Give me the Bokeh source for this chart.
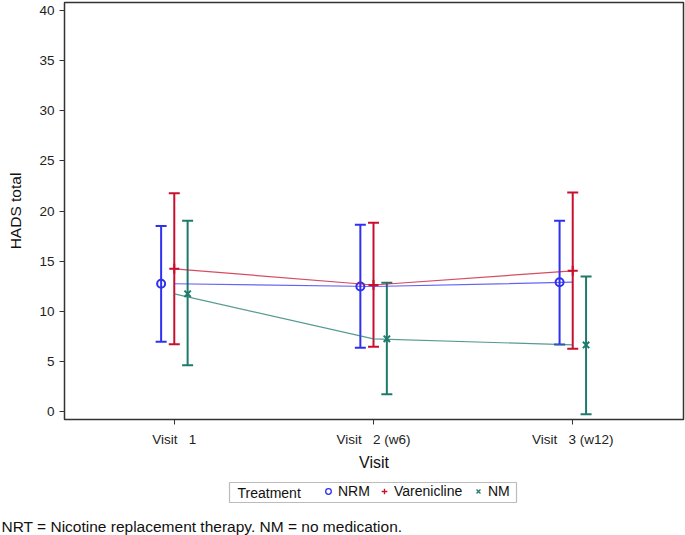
from bokeh.plotting import figure
from bokeh.layouts import column
from bokeh.models import (Range1d, FixedTicker, Whisker, TeeHead, ColumnDataSource,
                          Legend, LegendItem, Label, BoxAnnotation)
from bokeh.transform import dodge
from bokeh.embed import file_html
from bokeh.resources import INLINE

visits = [1, 2, 3]
visit_labels = ["Visit\u00a0\u00a0 1", "Visit\u00a0\u00a0 2 (w6)", "Visit\u00a0\u00a0 3 (w12)"]

nrm_mean = [12.74, 12.47, 12.90]
nrm_upper = [18.50, 18.62, 19.02]
nrm_lower = [6.95, 6.35, 6.68]

var_mean = [14.23, 12.62, 14.03]
var_upper = [21.78, 18.82, 21.85]
var_lower = [6.71, 6.45, 6.25]

nm_mean = [11.74, 7.25, 6.64]
nm_upper = [19.02, 12.84, 13.47]
nm_lower = [4.62, 1.73, -0.27]

series = [
    ("NRM", nrm_mean, nrm_upper, nrm_lower, "#3030F0", "circle", -0.066, 8),
    ("Varenicline", var_mean, var_upper, var_lower, "#C8102E", "cross", 0.0, 10),
    ("NM", nm_mean, nm_upper, nm_lower, "#1F7A6B", "x", 0.067, 9),
]
legend_title = "Treatment"
footnote = "NRT = Nicotine replacement therapy. NM = no medication."

FONT = "Liberation Sans"

# ---------------- main plot ----------------
p = figure(width=685, height=475, output_backend="svg", toolbar_location=None,
           x_range=Range1d(0.449, 3.556), y_range=Range1d(-0.8, 40.8),
           min_border_left=64, min_border_right=2, min_border_top=2, min_border_bottom=56)
p.grid.visible = False
p.outline_line_color = "#333333"
p.outline_line_width = 1.5

p.xaxis.ticker = FixedTicker(ticks=visits)
p.xaxis.major_label_overrides = {v: l for v, l in zip(visits, visit_labels)}
p.yaxis.ticker = FixedTicker(ticks=[0, 5, 10, 15, 20, 25, 30, 35, 40])
for ax in (p.xaxis, p.yaxis):
    ax.minor_tick_line_color = None
    ax.major_tick_in = 0
    ax.major_tick_out = 5
    ax.axis_line_color = "#333333"
    ax.major_tick_line_color = "#333333"
    ax.major_label_text_font = FONT
    ax.major_label_text_font_size = "13.5px"
    ax.major_label_text_color = "#222222"
    ax.axis_label_text_font = FONT
    ax.axis_label_text_font_style = "normal"
    ax.axis_label_text_color = "#111111"
p.xaxis.axis_label = "Visit"
p.xaxis.axis_label_text_font_size = "16px"
p.xaxis.major_label_standoff = 7
p.xaxis.axis_label_standoff = 4
p.yaxis.axis_label = "HADS total"
p.yaxis.axis_label_text_font_size = "15.5px"
p.yaxis.major_label_standoff = 5
p.yaxis.axis_label_standoff = 12

for name, mean, up, lo, color, marker, off, sz in series:
    src = ColumnDataSource(dict(x=visits, mean=mean, upper=up, lower=lo))
    p.line("x", "mean", source=src, line_color=color, line_width=1.2, line_alpha=0.75)
    w = Whisker(base=dodge("x", off), upper="upper", lower="lower", source=src,
                dimension="height", line_color=color, line_width=2,
                upper_head=TeeHead(size=11, line_color=color, line_width=2),
                lower_head=TeeHead(size=11, line_color=color, line_width=2))
    p.add_layout(w)
    p.scatter(dodge("x", off), "mean", source=src, marker=marker, size=sz,
              line_color=color, fill_color=None, line_width=2)

# ---------------- legend + footnote strip ----------------
H2 = 60
p2 = figure(width=685, height=H2, output_backend="svg", toolbar_location=None,
            x_range=Range1d(0, 685), y_range=Range1d(0, H2),
            x_axis_type=None, y_axis_type=None,
            min_border_left=0, min_border_right=0, min_border_top=0, min_border_bottom=0)
try:
    p2.frame_align = False
except Exception:
    pass
p2.grid.visible = False
p2.outline_line_color = None

p2.add_layout(BoxAnnotation(left=229, right=516, bottom=33, top=53,
                            fill_alpha=0, line_color="#222222", line_width=1.2))
p2.add_layout(Label(x=237, y=43, text=legend_title, text_baseline="middle",
                    text_font=FONT, text_font_size="14px", text_color="#111111"))

leg_x = [321, 377, 471]
for (name, mean, up, lo, color, marker, off, sz), lx in zip(series, leg_x):
    # off-canvas proxy glyph: only its legend symbol is shown
    r = p2.scatter(x=[-1000], y=[-1000], marker=marker, line_color=color,
                   fill_color=None, line_width=1.3)
    lg = Legend(items=[LegendItem(label=name, renderers=[r])], location=(lx, 36),
                orientation="horizontal", border_line_color=None,
                background_fill_alpha=0, padding=0, margin=0, spacing=0,
                glyph_width=14, glyph_height=14, label_height=14, label_standoff=3,
                label_text_font=FONT, label_text_font_size="14px",
                label_text_color="#111111")
    p2.add_layout(lg, "center")

p2.add_layout(Label(x=1, y=9.5, text=footnote, text_baseline="middle",
                    text_font=FONT, text_font_size="15.5px", text_color="#111111"))

open("out.html", "w").write(file_html(column(p, p2), INLINE))
